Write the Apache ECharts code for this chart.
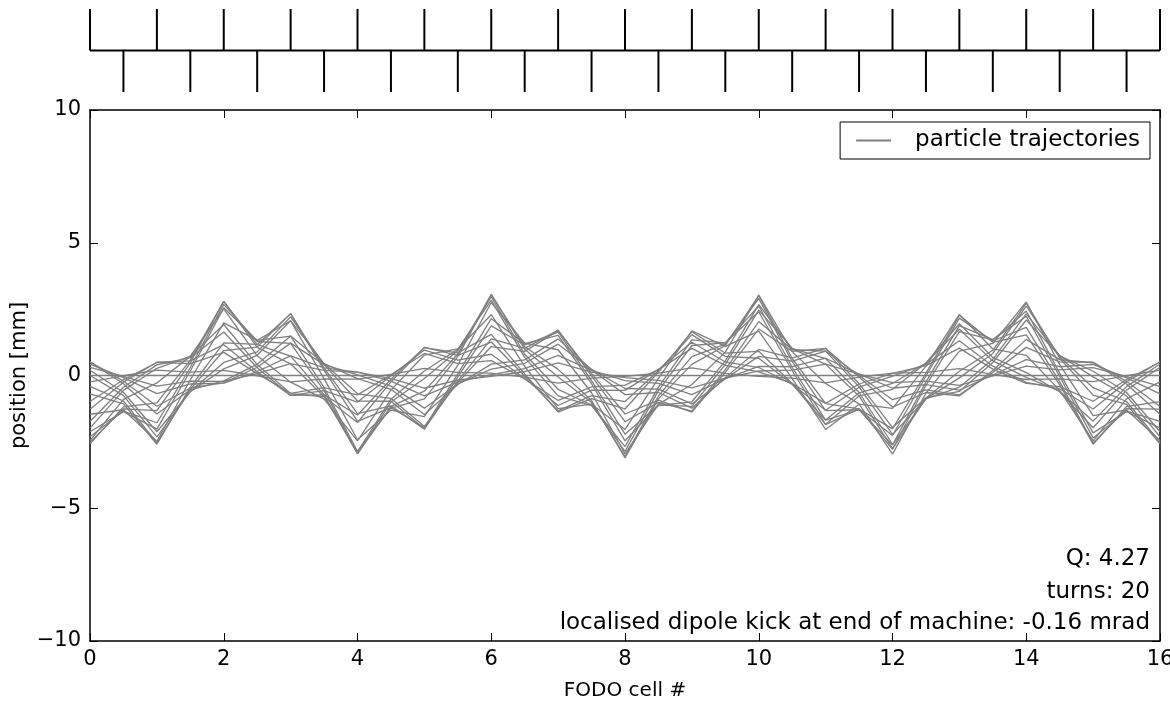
<!DOCTYPE html>
<html>
<head>
<meta charset="utf-8">
<title>FODO lattice trajectories</title>
<script src="https://cdn.jsdelivr.net/npm/echarts@6/dist/echarts.min.js"></script>
<style>
  html, body { margin: 0; padding: 0; background: #fff; }
  #chart { width: 1170px; height: 701px; }
</style>
</head>
<body>
<div id="chart"></div>
<script>
// Beam parameters shown in the annotation
const tuneQ = 4.27;
const turnCount = 20;
const kickMrad = -0.16;

// Longitudinal sample positions (FODO cell units), one per quadrupole
const cellPositions = [0, 0.5, 1, 1.5, 2, 2.5, 3, 3.5, 4, 4.5, 5, 5.5, 6, 6.5, 7, 7.5, 8,
  8.5, 9, 9.5, 10, 10.5, 11, 11.5, 12, 12.5, 13, 13.5, 14, 14.5, 15, 15.5, 16];

// Lattice sketch: focusing quads (drawn up) and defocusing quads (drawn down)
const focusPositions = [0, 1, 2, 3, 4, 5, 6, 7, 8, 9, 10, 11, 12, 13, 14, 15, 16];
const defocusPositions = [0.5, 1.5, 2.5, 3.5, 4.5, 5.5, 6.5, 7.5, 8.5, 9.5, 10.5, 11.5, 12.5, 13.5, 14.5, 15.5];

// Horizontal position [mm] at each sample, one array per turn
const turn01 = [0, 0, 0, 0, 0, 0, 0, 0, 0, 0, 0, 0, 0, 0, 0, 0, 0, 0, 0, 0, 0, 0, 0, 0, 0, 0, 0, 0, 0, 0, 0, 0, 0];
const turn02 = [0.00, -0.76, -2.31, -0.60, 0.49, 0.89, 2.21, 0.41, -0.96, -0.97, -2.01, -0.20, 1.38, 1.02, 1.71, -0.01, -1.74, -1.01, -1.34, 0.22, 2.03, 0.97, 0.92, -0.43, -2.22, -0.88, -0.44, 0.61, 2.32, 0.75, -0.05, -0.77, -2.31];
const turn03 = [-2.31, -1.34, -1.78, 0.30, 2.68, 1.28, 1.21, -0.57, -2.94, -1.16, -0.59, 0.81, 3.06, 0.99, -0.06, -1.02, -3.05, -0.77, 0.71, 1.18, 2.90, 0.52, -1.32, -1.29, -2.62, -0.24, 1.88, 1.35, 2.23, -0.04, -2.35, -1.34, -1.73];
const turn04 = [-1.73, -0.44, 0.40, 0.67, 1.64, 0.29, -0.75, -0.73, -1.49, -0.14, 1.06, 0.76, 1.26, -0.02, -1.33, -0.76, -0.98, 0.18, 1.54, 0.72, 0.65, -0.33, -1.68, -0.65, -0.30, 0.47, 1.74, 0.55, -0.07, -0.59, -1.72, -0.42, 0.43];
const turn05 = [0.43, -0.08, -0.68, -0.32, -0.29, 0.15, 0.74, 0.29, 0.13, -0.21, -0.77, -0.24, 0.03, 0.26, 0.76, 0.19, -0.19, -0.30, -0.72, -0.12, 0.34, 0.33, 0.65, 0.05, -0.48, -0.34, -0.55, 0.02, 0.60, 0.33, 0.42, -0.09, -0.69];
const turn06 = [-0.69, -1.07, -2.59, -0.44, 1.23, 1.17, 2.33, 0.20, -1.73, -1.21, -1.96, 0.06, 2.14, 1.20, 1.51, -0.31, -2.46, -1.13, -0.99, 0.55, 2.67, 1.01, 0.42, -0.77, -2.76, -0.85, 0.16, 0.95, 2.72, 0.65, -0.74, -1.09, -2.57];
const turn07 = [-2.57, -1.18, -1.03, 0.58, 2.79, 1.06, 0.44, -0.80, -2.88, -0.89, 0.17, 0.99, 2.84, 0.68, -0.77, -1.13, -2.68, -0.44, 1.34, 1.23, 2.40, 0.18, -1.85, -1.26, -2.01, 0.09, 2.27, 1.25, 1.53, -0.35, -2.59, -1.17, -0.98];
const turn08 = [-0.98, -0.16, 0.49, 0.45, 0.87, 0.07, -0.67, -0.46, -0.73, 0.03, 0.83, 0.45, 0.56, -0.13, -0.94, -0.43, -0.36, 0.22, 1.02, 0.38, 0.14, -0.30, -1.05, -0.32, 0.08, 0.37, 1.03, 0.24, -0.30, -0.42, -0.97, -0.15, 0.51];
const turn09 = [0.51, -0.31, -1.45, -0.54, -0.20, 0.42, 1.49, 0.45, -0.12, -0.52, -1.47, -0.34, 0.43, 0.59, 1.38, 0.22, -0.72, -0.64, -1.23, -0.08, 0.98, 0.66, 1.02, -0.06, -1.19, -0.64, -0.77, 0.19, 1.36, 0.60, 0.48, -0.32, -1.46];
const turn10 = [-1.46, -1.29, -2.48, -0.16, 1.98, 1.33, 2.06, -0.12, -2.42, -1.30, -1.55, 0.39, 2.75, 1.22, 0.97, -0.65, -2.95, -1.08, -0.34, 0.88, 3.03, 0.90, -0.30, -1.07, -2.96, -0.67, 0.92, 1.21, 2.77, 0.41, -1.51, -1.30, -2.45];
const turn11 = [-2.45, -0.90, -0.28, 0.73, 2.51, 0.74, -0.25, -0.89, -2.46, -0.55, 0.77, 1.00, 2.29, 0.34, -1.25, -1.08, -2.03, -0.11, 1.68, 1.10, 1.67, -0.12, -2.03, -1.08, -1.24, 0.35, 2.30, 1.00, 0.76, -0.56, -2.46, -0.88, -0.24];
const turn12 = [-0.24, -0.01, 0.20, 0.13, 0.19, -0.01, -0.24, -0.13, -0.14, 0.04, 0.27, 0.12, 0.09, -0.06, -0.29, -0.10, -0.03, 0.09, 0.29, 0.08, -0.03, -0.10, -0.28, -0.06, 0.09, 0.12, 0.26, 0.04, -0.15, -0.13, -0.23, -0.01, 0.20];
const turn13 = [0.20, -0.63, -2.12, -0.61, 0.25, 0.76, 2.07, 0.45, -0.69, -0.86, -1.92, -0.27, 1.09, 0.91, 1.69, 0.08, -1.45, -0.93, -1.38, 0.12, 1.75, 0.91, 1.02, -0.31, -1.96, -0.84, -0.60, 0.49, 2.09, 0.74, 0.16, -0.64, -2.12];
const turn14 = [-2.12, -1.36, -2.02, 0.17, 2.55, 1.32, 1.48, -0.45, -2.86, -1.23, -0.88, 0.71, 3.05, 1.08, 0.23, -0.94, -3.10, -0.88, 0.42, 1.13, 3.01, 0.64, -1.06, -1.26, -2.78, -0.37, 1.65, 1.34, 2.43, 0.09, -2.16, -1.36, -1.98];
const turn15 = [-1.98, -0.56, 0.27, 0.72, 1.92, 0.41, -0.68, -0.80, -1.77, -0.24, 1.05, 0.85, 1.55, 0.06, -1.38, -0.87, -1.26, 0.13, 1.65, 0.84, 0.91, -0.30, -1.84, -0.77, -0.52, 0.47, 1.95, 0.68, 0.11, -0.61, -1.97, -0.55, 0.31];
const turn16 = [0.31, -0.03, -0.40, -0.21, -0.22, 0.07, 0.45, 0.19, 0.13, -0.12, -0.48, -0.17, -0.03, 0.15, 0.48, 0.13, -0.08, -0.18, -0.47, -0.10, 0.17, 0.20, 0.43, 0.05, -0.27, -0.21, -0.37, -0.01, 0.35, 0.21, 0.30, -0.04, -0.41];
const turn17 = [-0.41, -0.96, -2.53, -0.52, 0.94, 1.07, 2.33, 0.29, -1.44, -1.14, -2.02, -0.05, 1.87, 1.15, 1.63, -0.19, -2.21, -1.11, -1.16, 0.42, 2.46, 1.02, 0.64, -0.64, -2.59, -0.88, -0.09, 0.83, 2.61, 0.71, -0.46, -0.98, -2.51];
const turn18 = [-2.51, -1.26, -1.32, 0.48, 2.79, 1.16, 0.73, -0.73, -2.95, -1.00, -0.11, 0.94, 2.97, 0.80, -0.52, -1.11, -2.86, -0.57, 1.13, 1.23, 2.62, 0.31, -1.68, -1.29, -2.26, -0.03, 2.16, 1.30, 1.81, -0.24, -2.54, -1.25, -1.27];
const turn19 = [-1.27, -0.25, 0.50, 0.55, 1.16, 0.14, -0.75, -0.57, -1.00, -0.01, 0.96, 0.58, 0.80, -0.11, -1.13, -0.55, -0.56, 0.23, 1.25, 0.51, 0.30, -0.33, -1.31, -0.44, -0.02, 0.42, 1.31, 0.35, -0.26, -0.50, -1.26, -0.24, 0.52];
const turn20 = [0.52, -0.21, -1.16, -0.47, -0.28, 0.31, 1.22, 0.41, 0.02, -0.40, -1.23, -0.32, 0.24, 0.46, 1.18, 0.23, -0.49, -0.51, -1.07, -0.12, 0.72, 0.54, 0.92, 0.00, -0.91, -0.54, -0.73, 0.11, 1.06, 0.51, 0.50, -0.22, -1.17];

const turns = [turn01, turn02, turn03, turn04, turn05, turn06, turn07, turn08, turn09, turn10,
  turn11, turn12, turn13, turn14, turn15, turn16, turn17, turn18, turn19, turn20];

const xTicks = [0, 2, 4, 6, 8, 10, 12, 14, 16];
const yTicks = [-10, -5, 0, 5, 10];

const FONT = 'DejaVu Sans';
const TRAJ_NAME = 'particle trajectories';
const TRAJ_COLOR = '#7f7f7f';
const NOTE_FONT = '23px "DejaVu Sans"';

const fmtSigned = v => (v < 0 ? '\u2212' + Math.abs(v) : String(v));

const frameLine = { show: true, onZero: false, lineStyle: { color: '#000', width: 1.5 } };
const innerTick = { show: true, inside: true, length: 8, lineStyle: { color: '#000', width: 1 } };
const labelStyle = { color: '#000', fontFamily: FONT, fontSize: 21 };

const trajectorySeries = turns.map(values => ({
  type: 'line',
  name: TRAJ_NAME,
  xAxisIndex: 0,
  yAxisIndex: 0,
  data: cellPositions.map((s, i) => [s, values[i]]),
  symbol: 'none',
  silent: true,
  lineStyle: { color: TRAJ_COLOR, width: 1.3 },
  itemStyle: { color: TRAJ_COLOR }
}));

// Quadrupole markers: +1 for focusing, -1 for defocusing
const magnetData = focusPositions.map(s => [s, 1])
  .concat(defocusPositions.map(s => [s, -1]));

const chart = echarts.init(document.getElementById('chart'), null, { renderer: 'canvas' });

chart.setOption({
  animation: false,
  backgroundColor: '#fff',
  grid: [
    { left: 90, right: 10, top: 110, bottom: 60, containLabel: false, outerBoundsMode: 'none' },
    { left: 90, right: 10, top: 9, height: 83, containLabel: false, outerBoundsMode: 'none' }
  ],
  xAxis: [
    {
      gridIndex: 0, type: 'value', position: 'bottom',
      min: xTicks[0], max: xTicks[xTicks.length - 1], interval: 2,
      axisLine: frameLine, axisTick: innerTick,
      axisLabel: Object.assign({ margin: 8 }, labelStyle),
      splitLine: { show: false },
      name: 'FODO cell #', nameLocation: 'middle', nameGap: 40, nameMoveOverlap: false,
      nameTextStyle: { color: '#000', fontFamily: FONT, fontSize: 20 }
    },
    {
      gridIndex: 0, type: 'value', position: 'top',
      min: xTicks[0], max: xTicks[xTicks.length - 1], interval: 2,
      axisLine: frameLine, axisTick: innerTick,
      axisLabel: { show: false }, splitLine: { show: false }
    },
    { gridIndex: 1, type: 'value', min: 0, max: 16, show: false }
  ],
  yAxis: [
    {
      gridIndex: 0, type: 'value', position: 'left',
      min: yTicks[0], max: yTicks[yTicks.length - 1], interval: 5,
      axisLine: frameLine, axisTick: innerTick,
      axisLabel: Object.assign({ margin: 9, formatter: fmtSigned }, labelStyle),
      splitLine: { show: false },
      name: 'position [mm]', nameLocation: 'middle', nameGap: 60, nameRotate: 90, nameMoveOverlap: false,
      nameTextStyle: { color: '#000', fontFamily: FONT, fontSize: 21 }
    },
    {
      gridIndex: 0, type: 'value', position: 'right',
      min: yTicks[0], max: yTicks[yTicks.length - 1], interval: 5,
      axisLine: frameLine, axisTick: innerTick,
      axisLabel: { show: false }, splitLine: { show: false }
    },
    { gridIndex: 1, type: 'value', min: -1, max: 1, show: false }
  ],
  legend: {
    data: [TRAJ_NAME],
    right: 20, top: 122,
    selectedMode: false,
    backgroundColor: '#fff',
    borderColor: '#000', borderWidth: 1, borderRadius: 0,
    padding: [7, 10, 7, 16],
    icon: 'rect', itemWidth: 35, itemHeight: 2,
    textStyle: { color: '#000', fontFamily: FONT, fontSize: 23, padding: [0, 0, 0, 19] }
  },
  graphic: [
    { type: 'text', x: 1150, y: 559, silent: true,
      style: { text: 'Q: ' + tuneQ.toFixed(2), align: 'right', verticalAlign: 'middle', fill: '#000', font: NOTE_FONT } },
    { type: 'text', x: 1150, y: 592, silent: true,
      style: { text: 'turns: ' + turnCount, align: 'right', verticalAlign: 'middle', fill: '#000', font: NOTE_FONT } },
    { type: 'text', x: 1150, y: 623, silent: true,
      style: { text: 'localised dipole kick at end of machine: ' + kickMrad.toFixed(2) + ' mrad', align: 'right', verticalAlign: 'middle', fill: '#000', font: NOTE_FONT } }
  ],
  series: trajectorySeries.concat([
    {
      type: 'line', name: 'lattice',
      xAxisIndex: 2, yAxisIndex: 2,
      data: [[0, 0], [16, 0]],
      symbol: 'none', silent: true,
      lineStyle: { color: '#000', width: 2 }
    },
    {
      type: 'bar', name: 'quadrupoles',
      xAxisIndex: 2, yAxisIndex: 2,
      data: magnetData,
      barWidth: 2, clip: false, silent: true,
      itemStyle: { color: '#000' }
    }
  ])
});
</script>
</body>
</html>
